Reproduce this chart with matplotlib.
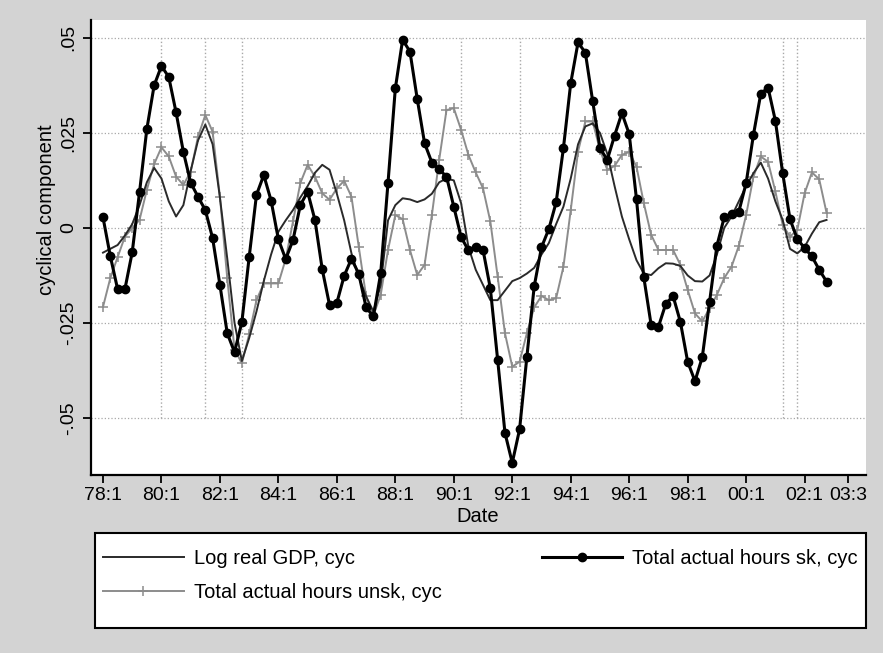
import numpy as np
import matplotlib.pyplot as plt
from matplotlib.patches import Rectangle

plt.rcParams['font.family'] = ['Liberation Sans', 'DejaVu Sans']

# quarters since 1978q1 (1978q1 .. 2002q4)
quarters = np.arange(100)

gdp = [-0.0065, -0.0055, -0.0045, -0.002, 0.001, 0.006, 0.012, 0.0158, 0.013, 0.007,
       0.003, 0.006, 0.015, 0.023, 0.0272, 0.022, 0.008, -0.008, -0.025, -0.035,
       -0.029, -0.022, -0.014, -0.007, -0.001, 0.002, 0.0047, 0.008, 0.011, 0.0145,
       0.0166, 0.0153, 0.009, 0.002, -0.0067, -0.013, -0.018, -0.022, -0.015, 0.002,
       0.006, 0.0078, 0.0075, 0.0068, 0.0075, 0.009, 0.012, 0.013, 0.0125, 0.0065,
       -0.005, -0.011, -0.015, -0.019, -0.019, -0.0165, -0.014, -0.0132, -0.012, -0.0105,
       -0.007, -0.004, 0.001, 0.0056, 0.013, 0.022, 0.0267, 0.0275, 0.025, 0.0195,
       0.011, 0.003, -0.003, -0.0085, -0.012, -0.0124, -0.0106, -0.0093, -0.0094, -0.010,
       -0.0125, -0.014, -0.0141, -0.0125, -0.007, 0.000, 0.003, 0.007, 0.011, 0.0144,
       0.0172, 0.013, 0.007, 0.0021, -0.0055, -0.0067, -0.005, -0.0015, 0.0015, 0.0021]

hours_sk = [0.0028, -0.0074, -0.0161, -0.0161, -0.0064, 0.0094, 0.026, 0.0375, 0.0426, 0.0397,
            0.0304, 0.020, 0.0119, 0.0082, 0.0047, -0.0027, -0.015, -0.0277, -0.0327, -0.0248,
            -0.0077, 0.0087, 0.0139, 0.0072, -0.0030, -0.0082, -0.0032, 0.006, 0.0095, 0.0021,
            -0.0109, -0.0203, -0.0197, -0.0126, -0.0081, -0.0121, -0.0209, -0.0233, -0.0119, 0.0119,
            0.0367, 0.0495, 0.0464, 0.0339, 0.0223, 0.0172, 0.0154, 0.0135, 0.0056, -0.0024,
            -0.0059, -0.0049, -0.0058, -0.0159, -0.0347, -0.0539, -0.0618, -0.053, -0.0339, -0.0154,
            -0.0051, -0.0003, 0.0067, 0.021, 0.0381, 0.0488, 0.0461, 0.0334, 0.021, 0.0179,
            0.0243, 0.0302, 0.0247, 0.0075, -0.013, -0.0255, -0.026, -0.020, -0.0179, -0.0247,
            -0.0352, -0.0403, -0.034, -0.0194, -0.0047, 0.0028, 0.0037, 0.0043, 0.0118, 0.0245,
            0.0353, 0.0369, 0.0282, 0.0144, 0.0023, -0.0029, -0.0053, -0.0075, -0.011, -0.0141]

hours_unsk = [-0.0208, -0.0132, -0.0077, -0.0023, 0.000, 0.0021, 0.010, 0.0168, 0.0212, 0.0188,
              0.0135, 0.0113, 0.0148, 0.024, 0.0297, 0.0253, 0.0082, -0.0132, -0.032, -0.0356,
              -0.028, -0.019, -0.0146, -0.0146, -0.0146, -0.0082, 0.0017, 0.0118, 0.0166, 0.0135,
              0.0091, 0.0074, 0.0104, 0.0124, 0.0082, -0.005, -0.018, -0.023, -0.0176, -0.0058,
              0.0034, 0.0023, -0.0058, -0.0124, -0.0097, 0.0034, 0.0179, 0.031, 0.0315, 0.0258,
              0.0192, 0.0146, 0.0104, 0.0017, -0.0128, -0.0277, -0.0365, -0.0352, -0.0277, -0.0209,
              -0.0179, -0.019, -0.0185, -0.0102, 0.0047, 0.0201, 0.028, 0.028, 0.0205, 0.0153,
              0.0163, 0.0192, 0.020, 0.0161, 0.0065, -0.0018, -0.0058, -0.0058, -0.0058, -0.0097,
              -0.0163, -0.0225, -0.0246, -0.0211, -0.0176, -0.0132, -0.0102, -0.0047, 0.0034, 0.0135,
              0.0188, 0.0174, 0.0096, 0.0008, -0.0023, -0.0005, 0.0091, 0.0146, 0.0128, 0.004]

x_ticks = [0, 8, 16, 24, 32, 40, 48, 56, 64, 72, 80, 88, 96, 102]
x_labels = ['78:1', '80:1', '82:1', '84:1', '86:1', '88:1', '90:1', '92:1',
            '94:1', '96:1', '98:1', '00:1', '02:1', '03:3']
y_ticks = [-0.05, -0.025, 0, 0.025, 0.05]
y_labels = ['-.05', '-.025', '0', '.025', '.05']
ref_quarters = [8, 14, 19, 49, 57, 93, 95]

W, H = 883, 653
fig = plt.figure(figsize=(W / 100, H / 100), dpi=100, facecolor='#d3d3d3')
ax = fig.add_axes([91 / W, 1 - 475 / H, 775 / W, 455 / H])
ax.set_facecolor('white')

for yv in y_ticks:
    ax.axhline(yv, color='#a8a8a8', lw=0.9, ls=':', zorder=1)
ax.vlines(ref_quarters, -0.05, 0.05, colors='#a8a8a8', lw=1.0, linestyles=':', zorder=1)

l_unsk, = ax.plot(quarters, hours_unsk, color='#8c8c8c', lw=1.4, marker='+',
                  ms=7, mew=1.1, zorder=2)
l_gdp, = ax.plot(quarters, gdp, color='#2a2a2a', lw=1.4, zorder=3)
l_sk, = ax.plot(quarters, hours_sk, color='black', lw=2.2, marker='o', ms=6, zorder=4)

ax.set_xlim(-1.64, 104.4)
ax.set_ylim(-0.065, 0.0547)
ax.set_xticks(x_ticks)
ax.set_xticklabels(x_labels)
ax.set_yticks(y_ticks)
ax.set_yticklabels(y_labels, rotation=90, va='center')
ax.tick_params(axis='both', direction='out', length=6, width=1.3, labelsize=14)
ax.tick_params(axis='y', pad=4)
ax.tick_params(axis='x', pad=3)

for side in ['top', 'right']:
    ax.spines[side].set_visible(False)
for side in ['left', 'bottom']:
    ax.spines[side].set_linewidth(1.6)

fig.text(47 / W, 1 - 210 / H, 'cyclical component', rotation=90,
         ha='center', va='center', fontsize=14.5)
fig.text(478 / W, 1 - 516 / H, 'Date', ha='center', va='center', fontsize=14.5)

# legend frame drawn as a box on the figure
fig.patches.append(Rectangle((95 / W, 1 - 628 / H), 771 / W, 95 / H, transform=fig.transFigure,
                             facecolor='white', edgecolor='black', lw=1.5, zorder=0))
fig.legend([l_gdp, l_unsk, l_sk],
           ['Log real GDP, cyc', 'Total actual hours unsk, cyc', 'Total actual hours sk, cyc'],
           ncol=2, loc='upper left', bbox_to_anchor=(95 / W, 0.0, 771 / W, 1 - 541 / H),
           mode='expand', borderaxespad=0, frameon=False,
           fontsize=14.5, handlelength=4.0, handletextpad=0.5, labelspacing=0.75,
           borderpad=0.4)

fig.savefig('out.png', dpi=100, facecolor=fig.get_facecolor())
